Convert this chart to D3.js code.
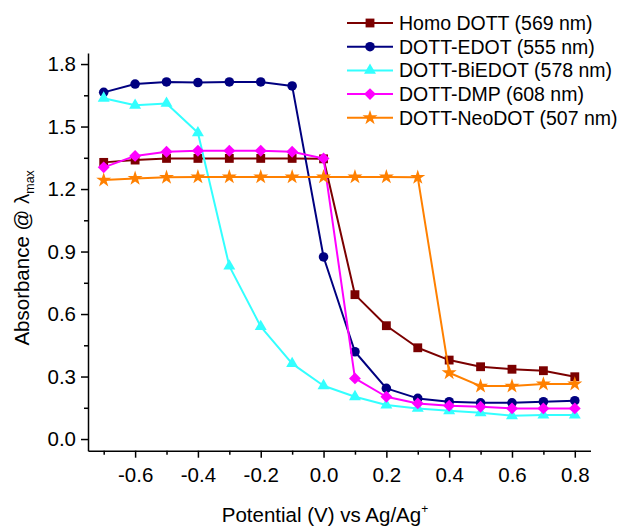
<!DOCTYPE html>
<html>
<head>
<meta charset="utf-8">
<script src="https://cdn.jsdelivr.net/npm/d3@7"></script>
<style>
  html, body { margin: 0; padding: 0; background: #fff; }
  svg { display: block; font-family: "Liberation Sans", Arial, sans-serif; }
</style>
</head>
<body>
<svg id="chart" width="621" height="526"></svg>
<script>
// ---- data ----
const potentials = [-0.7, -0.6, -0.5, -0.4, -0.3, -0.2, -0.1, 0.0, 0.1, 0.2, 0.3, 0.4, 0.5, 0.6, 0.7, 0.8];
const seriesNames = ["Homo DOTT (569 nm)", "DOTT-EDOT (555 nm)", "DOTT-BiEDOT (578 nm)", "DOTT-DMP (608 nm)", "DOTT-NeoDOT (507 nm)"];
const homoDOTT = [1.328, 1.339, 1.347, 1.347, 1.347, 1.347, 1.347, 1.345, 0.693, 0.544, 0.438, 0.379, 0.347, 0.335, 0.328, 0.299];
const dottEDOT = [1.664, 1.704, 1.714, 1.711, 1.714, 1.714, 1.695, 0.874, 0.419, 0.243, 0.195, 0.179, 0.174, 0.174, 0.179, 0.184];
const dottBiEDOT = [1.636, 1.602, 1.611, 1.470, 0.830, 0.540, 0.362, 0.256, 0.203, 0.163, 0.147, 0.136, 0.126, 0.112, 0.115, 0.115];
const dottDMP = [1.304, 1.359, 1.379, 1.384, 1.384, 1.384, 1.379, 1.347, 0.291, 0.203, 0.171, 0.160, 0.155, 0.147, 0.147, 0.147];
const dottNeoDOT = [1.243, 1.251, 1.256, 1.258, 1.258, 1.258, 1.258, 1.258, 1.258, 1.258, 1.256, 0.318, 0.254, 0.254, 0.264, 0.264];
const xTickValues = [-0.6, -0.4, -0.2, 0.0, 0.2, 0.4, 0.6, 0.8];
const xMinorTicks = [-0.7, -0.5, -0.3, -0.1, 0.1, 0.3, 0.5, 0.7];
const yTickValues = [0.0, 0.3, 0.6, 0.9, 1.2, 1.5, 1.8];
const yMinorTicks = [0.15, 0.45, 0.75, 1.05, 1.35, 1.65];

// ---- styling ----
const colors = ["#7b0000", "#000080", "#33ffff", "#ff00ff", "#ff8000"];
const symbols = [d3.symbolSquare, d3.symbolCircle, d3.symbolTriangle, d3.symbolDiamond2, d3.symbolStar];
const symSizes = [78, 72, 62, 90, 70];
const allSeries = [homoDOTT, dottEDOT, dottBiEDOT, dottDMP, dottNeoDOT];

const svg = d3.select("#chart");
const x = d3.scaleLinear().domain([-0.75, 0.85]).range([88, 590.5]);
const y = d3.scaleLinear().domain([-0.056, 1.853]).range([450.7, 53]);
const fontSize = 20.5;

// axes
const xAxis = svg.append("g").attr("transform", `translate(0,${y.range()[0]})`)
  .call(d3.axisBottom(x).tickValues(xTickValues).tickFormat(d => d.toFixed(1)).tickSizeInner(7).tickSizeOuter(0).tickPadding(10));
const xMinor = svg.append("g").attr("transform", `translate(0,${y.range()[0]})`)
  .call(d3.axisBottom(x).tickValues(xMinorTicks).tickFormat("").tickSizeInner(4).tickSizeOuter(0));
xMinor.select(".domain").remove();

const yAxis = svg.append("g").attr("transform", `translate(${x.range()[0]},0)`)
  .call(d3.axisLeft(y).tickValues(yTickValues).tickFormat(d => d.toFixed(1)).tickSizeInner(7).tickSizeOuter(0).tickPadding(5));
const yMinor = svg.append("g").attr("transform", `translate(${x.range()[0]},0)`)
  .call(d3.axisLeft(y).tickValues(yMinorTicks).tickFormat("").tickSizeInner(4).tickSizeOuter(0));
yMinor.select(".domain").remove();

svg.selectAll(".domain, .tick line").attr("stroke", "#000").attr("stroke-width", 1.5);
svg.selectAll(".tick text").attr("font-size", fontSize).attr("fill", "#000")
  .attr("font-family", "'Liberation Sans', Arial, sans-serif");

// axis titles
const xt = svg.append("text").attr("x", 325).attr("y", 522)
  .attr("text-anchor", "middle").attr("font-size", fontSize).attr("fill", "#000");
xt.append("tspan").text("Potential (V) vs Ag/Ag");
xt.append("tspan").text("+").attr("font-size", 12).attr("dy", -9);

const yt = svg.append("text").attr("transform", `translate(29,${(y.range()[0] + y.range()[1]) / 2 + 6}) rotate(-90)`)
  .attr("text-anchor", "middle").attr("font-size", fontSize).attr("fill", "#000");
yt.append("tspan").text("Absorbance @ \u03bb");
yt.append("tspan").text("max").attr("font-size", 12.5).attr("dy", 5);

// series
const line = d3.line().x((d, i) => x(potentials[i])).y(d => y(d));
allSeries.forEach((vals, s) => {
  const g = svg.append("g");
  g.append("path").datum(vals).attr("d", line).attr("fill", "none")
    .attr("stroke", colors[s]).attr("stroke-width", 2).attr("stroke-linejoin", "round");
  g.selectAll("path.sym").data(vals).enter().append("path").attr("class", "sym")
    .attr("d", d3.symbol().type(symbols[s]).size(symSizes[s]))
    .attr("transform", (d, i) => `translate(${x(potentials[i])},${y(d)})`)
    .attr("fill", colors[s]).attr("stroke", "none");
});

// legend
const legend = svg.append("g");
seriesNames.forEach((name, s) => {
  const cy = 23 + s * 23.7;
  legend.append("line").attr("x1", 347).attr("x2", 393).attr("y1", cy).attr("y2", cy)
    .attr("stroke", colors[s]).attr("stroke-width", 2);
  legend.append("path").attr("d", d3.symbol().type(symbols[s]).size(symSizes[s]))
    .attr("transform", `translate(370,${cy})`).attr("fill", colors[s]);
  legend.append("text").attr("x", 399).attr("y", cy + 7).attr("font-size", 19.5).attr("fill", "#000").text(name);
});
</script>
</body>
</html>
